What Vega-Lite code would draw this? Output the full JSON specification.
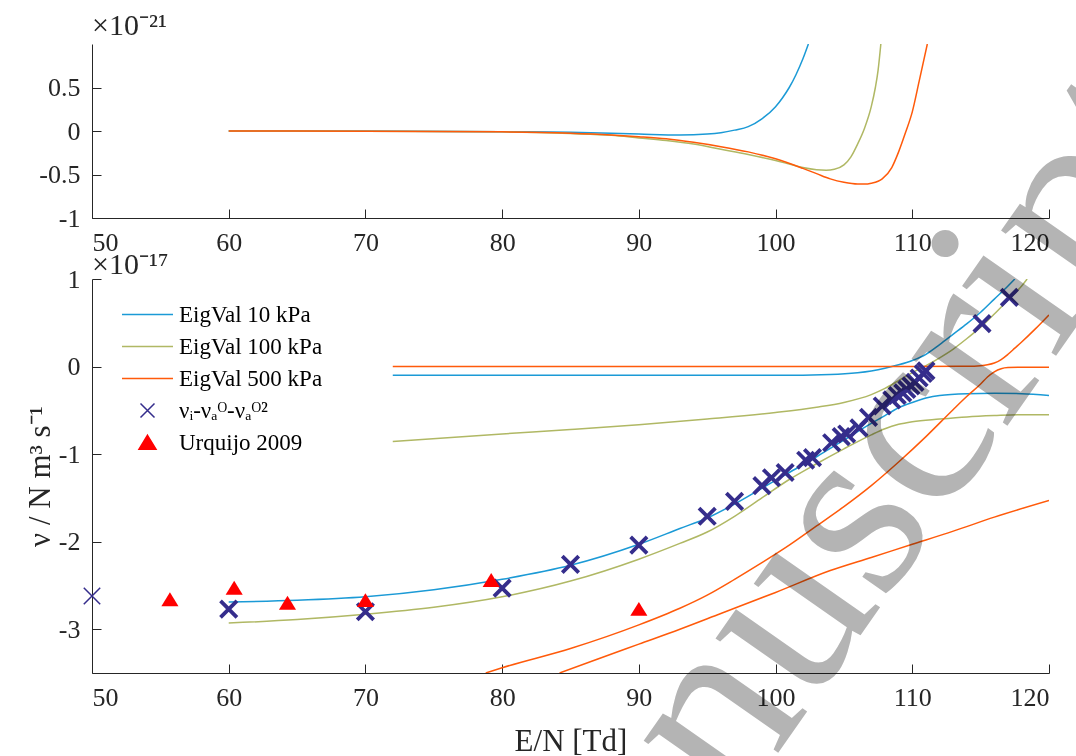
{
  "$schema": "https://vega.github.io/schema/vega-lite/v6.json",
  "background": "white",
  "padding": {"left": 24, "top": 11, "right": 20, "bottom": 10},
  "bounds": "flush",
  "spacing": 61,
  "resolve": {"scale": {"color": "independent", "x": "independent", "y": "independent"}, "legend": {"color": "independent"}},
  "config": {
    "font": "Liberation Serif",
    "view": {"stroke": null},
    "axis": {
      "grid": false,
      "domainColor": "#262626",
      "tickColor": "#262626",
      "labelColor": "#262626",
      "titleColor": "#262626",
      "labelFont": "Liberation Serif",
      "titleFont": "Liberation Serif",
      "labelFontSize": 26,
      "titleFontSize": 31,
      "titleFontWeight": "normal",
      "tickSize": -9,
      "tickWidth": 1,
      "domainWidth": 1,
      "labelExpr": "'' + datum.value"
    },
    "title": {"font": "Liberation Serif", "fontSize": 30, "fontWeight": "normal", "color": "#262626", "anchor": "start", "frame": "group"}
  },
  "datasets": {
    "top": [
      {"series": "EigVal 10 kPa", "x": 60, "y": 0},
      {"series": "EigVal 10 kPa", "x": 70, "y": 0},
      {"series": "EigVal 10 kPa", "x": 80, "y": -0.008},
      {"series": "EigVal 10 kPa", "x": 85, "y": -0.015},
      {"series": "EigVal 10 kPa", "x": 90, "y": -0.035},
      {"series": "EigVal 10 kPa", "x": 93, "y": -0.045},
      {"series": "EigVal 10 kPa", "x": 95, "y": -0.035},
      {"series": "EigVal 10 kPa", "x": 96, "y": -0.02},
      {"series": "EigVal 10 kPa", "x": 97, "y": 0.01},
      {"series": "EigVal 10 kPa", "x": 98, "y": 0.05},
      {"series": "EigVal 10 kPa", "x": 99, "y": 0.14},
      {"series": "EigVal 10 kPa", "x": 100, "y": 0.28},
      {"series": "EigVal 10 kPa", "x": 100.5, "y": 0.38},
      {"series": "EigVal 10 kPa", "x": 101, "y": 0.5},
      {"series": "EigVal 10 kPa", "x": 101.5, "y": 0.65},
      {"series": "EigVal 10 kPa", "x": 102, "y": 0.83},
      {"series": "EigVal 10 kPa", "x": 102.4, "y": 1.0},
      {"series": "EigVal 100 kPa", "x": 60, "y": 0},
      {"series": "EigVal 100 kPa", "x": 70, "y": -0.002},
      {"series": "EigVal 100 kPa", "x": 80, "y": -0.01},
      {"series": "EigVal 100 kPa", "x": 85, "y": -0.03},
      {"series": "EigVal 100 kPa", "x": 88, "y": -0.05},
      {"series": "EigVal 100 kPa", "x": 90, "y": -0.08},
      {"series": "EigVal 100 kPa", "x": 92, "y": -0.11},
      {"series": "EigVal 100 kPa", "x": 94, "y": -0.15},
      {"series": "EigVal 100 kPa", "x": 96, "y": -0.21},
      {"series": "EigVal 100 kPa", "x": 98, "y": -0.27},
      {"series": "EigVal 100 kPa", "x": 100, "y": -0.34},
      {"series": "EigVal 100 kPa", "x": 101, "y": -0.38},
      {"series": "EigVal 100 kPa", "x": 102, "y": -0.42},
      {"series": "EigVal 100 kPa", "x": 103, "y": -0.445},
      {"series": "EigVal 100 kPa", "x": 103.7, "y": -0.45},
      {"series": "EigVal 100 kPa", "x": 104.3, "y": -0.44},
      {"series": "EigVal 100 kPa", "x": 105, "y": -0.39},
      {"series": "EigVal 100 kPa", "x": 105.5, "y": -0.3},
      {"series": "EigVal 100 kPa", "x": 106, "y": -0.15},
      {"series": "EigVal 100 kPa", "x": 106.5, "y": 0.03},
      {"series": "EigVal 100 kPa", "x": 107, "y": 0.28},
      {"series": "EigVal 100 kPa", "x": 107.3, "y": 0.5},
      {"series": "EigVal 100 kPa", "x": 107.5, "y": 0.7},
      {"series": "EigVal 100 kPa", "x": 107.7, "y": 1.0},
      {"series": "EigVal 500 kPa", "x": 60, "y": 0},
      {"series": "EigVal 500 kPa", "x": 70, "y": -0.002},
      {"series": "EigVal 500 kPa", "x": 80, "y": -0.01},
      {"series": "EigVal 500 kPa", "x": 85, "y": -0.025},
      {"series": "EigVal 500 kPa", "x": 88, "y": -0.045},
      {"series": "EigVal 500 kPa", "x": 90, "y": -0.065},
      {"series": "EigVal 500 kPa", "x": 92, "y": -0.09},
      {"series": "EigVal 500 kPa", "x": 94, "y": -0.13},
      {"series": "EigVal 500 kPa", "x": 96, "y": -0.18},
      {"series": "EigVal 500 kPa", "x": 98, "y": -0.24},
      {"series": "EigVal 500 kPa", "x": 100, "y": -0.32},
      {"series": "EigVal 500 kPa", "x": 102, "y": -0.43},
      {"series": "EigVal 500 kPa", "x": 103, "y": -0.49},
      {"series": "EigVal 500 kPa", "x": 104, "y": -0.55},
      {"series": "EigVal 500 kPa", "x": 105, "y": -0.59},
      {"series": "EigVal 500 kPa", "x": 106, "y": -0.61},
      {"series": "EigVal 500 kPa", "x": 106.5, "y": -0.61},
      {"series": "EigVal 500 kPa", "x": 107, "y": -0.6},
      {"series": "EigVal 500 kPa", "x": 107.8, "y": -0.55},
      {"series": "EigVal 500 kPa", "x": 108.5, "y": -0.42},
      {"series": "EigVal 500 kPa", "x": 109, "y": -0.24},
      {"series": "EigVal 500 kPa", "x": 109.5, "y": -0.02},
      {"series": "EigVal 500 kPa", "x": 110, "y": 0.22},
      {"series": "EigVal 500 kPa", "x": 110.5, "y": 0.57},
      {"series": "EigVal 500 kPa", "x": 111.1, "y": 1.0}
    ],
    "curves": [
      {"series": "EigVal 10 kPa", "branch": "a", "x": 60, "y": -2.69},
      {"series": "EigVal 10 kPa", "branch": "a", "x": 65, "y": -2.67},
      {"series": "EigVal 10 kPa", "branch": "a", "x": 70, "y": -2.63},
      {"series": "EigVal 10 kPa", "branch": "a", "x": 75, "y": -2.55},
      {"series": "EigVal 10 kPa", "branch": "a", "x": 80, "y": -2.43},
      {"series": "EigVal 10 kPa", "branch": "a", "x": 85, "y": -2.27},
      {"series": "EigVal 10 kPa", "branch": "a", "x": 90, "y": -2.03},
      {"series": "EigVal 10 kPa", "branch": "a", "x": 93, "y": -1.85},
      {"series": "EigVal 10 kPa", "branch": "a", "x": 95, "y": -1.73},
      {"series": "EigVal 10 kPa", "branch": "a", "x": 97, "y": -1.57},
      {"series": "EigVal 10 kPa", "branch": "a", "x": 99, "y": -1.39},
      {"series": "EigVal 10 kPa", "branch": "a", "x": 101, "y": -1.21},
      {"series": "EigVal 10 kPa", "branch": "a", "x": 103, "y": -1.03},
      {"series": "EigVal 10 kPa", "branch": "a", "x": 105, "y": -0.84},
      {"series": "EigVal 10 kPa", "branch": "a", "x": 107, "y": -0.65},
      {"series": "EigVal 10 kPa", "branch": "a", "x": 108, "y": -0.56},
      {"series": "EigVal 10 kPa", "branch": "a", "x": 109, "y": -0.47},
      {"series": "EigVal 10 kPa", "branch": "a", "x": 110, "y": -0.41},
      {"series": "EigVal 10 kPa", "branch": "a", "x": 111, "y": -0.36},
      {"series": "EigVal 10 kPa", "branch": "a", "x": 112, "y": -0.33},
      {"series": "EigVal 10 kPa", "branch": "a", "x": 114, "y": -0.31},
      {"series": "EigVal 10 kPa", "branch": "a", "x": 116, "y": -0.305},
      {"series": "EigVal 10 kPa", "branch": "a", "x": 118, "y": -0.31},
      {"series": "EigVal 10 kPa", "branch": "a", "x": 120, "y": -0.33},
      {"series": "EigVal 10 kPa", "branch": "b", "x": 72, "y": -0.1},
      {"series": "EigVal 10 kPa", "branch": "b", "x": 80, "y": -0.1},
      {"series": "EigVal 10 kPa", "branch": "b", "x": 90, "y": -0.1},
      {"series": "EigVal 10 kPa", "branch": "b", "x": 100, "y": -0.1},
      {"series": "EigVal 10 kPa", "branch": "b", "x": 104, "y": -0.09},
      {"series": "EigVal 10 kPa", "branch": "b", "x": 106, "y": -0.07},
      {"series": "EigVal 10 kPa", "branch": "b", "x": 107, "y": -0.05},
      {"series": "EigVal 10 kPa", "branch": "b", "x": 108, "y": -0.02},
      {"series": "EigVal 10 kPa", "branch": "b", "x": 109, "y": 0.02},
      {"series": "EigVal 10 kPa", "branch": "b", "x": 110, "y": 0.07},
      {"series": "EigVal 10 kPa", "branch": "b", "x": 111, "y": 0.14},
      {"series": "EigVal 10 kPa", "branch": "b", "x": 112, "y": 0.25},
      {"series": "EigVal 10 kPa", "branch": "b", "x": 113, "y": 0.37},
      {"series": "EigVal 10 kPa", "branch": "b", "x": 114, "y": 0.49},
      {"series": "EigVal 10 kPa", "branch": "b", "x": 115, "y": 0.62},
      {"series": "EigVal 10 kPa", "branch": "b", "x": 116, "y": 0.77},
      {"series": "EigVal 10 kPa", "branch": "b", "x": 117, "y": 0.92},
      {"series": "EigVal 10 kPa", "branch": "b", "x": 117.5, "y": 1.0},
      {"series": "EigVal 100 kPa", "branch": "a", "x": 72, "y": -0.855},
      {"series": "EigVal 100 kPa", "branch": "a", "x": 80, "y": -0.77},
      {"series": "EigVal 100 kPa", "branch": "a", "x": 85, "y": -0.72},
      {"series": "EigVal 100 kPa", "branch": "a", "x": 90, "y": -0.665},
      {"series": "EigVal 100 kPa", "branch": "a", "x": 95, "y": -0.6},
      {"series": "EigVal 100 kPa", "branch": "a", "x": 100, "y": -0.525},
      {"series": "EigVal 100 kPa", "branch": "a", "x": 103, "y": -0.465},
      {"series": "EigVal 100 kPa", "branch": "a", "x": 105, "y": -0.41},
      {"series": "EigVal 100 kPa", "branch": "a", "x": 107, "y": -0.32},
      {"series": "EigVal 100 kPa", "branch": "a", "x": 108, "y": -0.25},
      {"series": "EigVal 100 kPa", "branch": "a", "x": 109, "y": -0.16},
      {"series": "EigVal 100 kPa", "branch": "a", "x": 110, "y": -0.07},
      {"series": "EigVal 100 kPa", "branch": "a", "x": 111, "y": 0.01},
      {"series": "EigVal 100 kPa", "branch": "a", "x": 112, "y": 0.1},
      {"series": "EigVal 100 kPa", "branch": "a", "x": 113, "y": 0.2},
      {"series": "EigVal 100 kPa", "branch": "a", "x": 114, "y": 0.32},
      {"series": "EigVal 100 kPa", "branch": "a", "x": 115, "y": 0.45},
      {"series": "EigVal 100 kPa", "branch": "a", "x": 116, "y": 0.6},
      {"series": "EigVal 100 kPa", "branch": "a", "x": 117, "y": 0.76},
      {"series": "EigVal 100 kPa", "branch": "a", "x": 118, "y": 0.92},
      {"series": "EigVal 100 kPa", "branch": "a", "x": 118.4, "y": 1.0},
      {"series": "EigVal 100 kPa", "branch": "b", "x": 60, "y": -2.93},
      {"series": "EigVal 100 kPa", "branch": "b", "x": 65, "y": -2.89},
      {"series": "EigVal 100 kPa", "branch": "b", "x": 70, "y": -2.83},
      {"series": "EigVal 100 kPa", "branch": "b", "x": 75, "y": -2.75},
      {"series": "EigVal 100 kPa", "branch": "b", "x": 80, "y": -2.63},
      {"series": "EigVal 100 kPa", "branch": "b", "x": 85, "y": -2.45},
      {"series": "EigVal 100 kPa", "branch": "b", "x": 90, "y": -2.2},
      {"series": "EigVal 100 kPa", "branch": "b", "x": 93, "y": -2.02},
      {"series": "EigVal 100 kPa", "branch": "b", "x": 95, "y": -1.89},
      {"series": "EigVal 100 kPa", "branch": "b", "x": 97, "y": -1.71},
      {"series": "EigVal 100 kPa", "branch": "b", "x": 99, "y": -1.5},
      {"series": "EigVal 100 kPa", "branch": "b", "x": 101, "y": -1.29},
      {"series": "EigVal 100 kPa", "branch": "b", "x": 103, "y": -1.11},
      {"series": "EigVal 100 kPa", "branch": "b", "x": 105, "y": -0.94},
      {"series": "EigVal 100 kPa", "branch": "b", "x": 107, "y": -0.78},
      {"series": "EigVal 100 kPa", "branch": "b", "x": 108, "y": -0.71},
      {"series": "EigVal 100 kPa", "branch": "b", "x": 109, "y": -0.66},
      {"series": "EigVal 100 kPa", "branch": "b", "x": 110, "y": -0.63},
      {"series": "EigVal 100 kPa", "branch": "b", "x": 112, "y": -0.6},
      {"series": "EigVal 100 kPa", "branch": "b", "x": 114, "y": -0.575},
      {"series": "EigVal 100 kPa", "branch": "b", "x": 116, "y": -0.56},
      {"series": "EigVal 100 kPa", "branch": "b", "x": 118, "y": -0.55},
      {"series": "EigVal 100 kPa", "branch": "b", "x": 120, "y": -0.55},
      {"series": "EigVal 500 kPa", "branch": "a", "x": 72, "y": 0},
      {"series": "EigVal 500 kPa", "branch": "a", "x": 90, "y": 0},
      {"series": "EigVal 500 kPa", "branch": "a", "x": 110, "y": 0},
      {"series": "EigVal 500 kPa", "branch": "a", "x": 114, "y": 0.003},
      {"series": "EigVal 500 kPa", "branch": "a", "x": 115, "y": 0.01},
      {"series": "EigVal 500 kPa", "branch": "a", "x": 115.5, "y": 0.02},
      {"series": "EigVal 500 kPa", "branch": "a", "x": 116, "y": 0.04},
      {"series": "EigVal 500 kPa", "branch": "a", "x": 116.5, "y": 0.08},
      {"series": "EigVal 500 kPa", "branch": "a", "x": 117, "y": 0.14},
      {"series": "EigVal 500 kPa", "branch": "a", "x": 117.5, "y": 0.21},
      {"series": "EigVal 500 kPa", "branch": "a", "x": 118, "y": 0.28},
      {"series": "EigVal 500 kPa", "branch": "a", "x": 119, "y": 0.43},
      {"series": "EigVal 500 kPa", "branch": "a", "x": 120, "y": 0.59},
      {"series": "EigVal 500 kPa", "branch": "b", "x": 78.8, "y": -3.5},
      {"series": "EigVal 500 kPa", "branch": "b", "x": 80, "y": -3.44},
      {"series": "EigVal 500 kPa", "branch": "b", "x": 85, "y": -3.22},
      {"series": "EigVal 500 kPa", "branch": "b", "x": 90, "y": -2.95},
      {"series": "EigVal 500 kPa", "branch": "b", "x": 93, "y": -2.76},
      {"series": "EigVal 500 kPa", "branch": "b", "x": 95, "y": -2.61},
      {"series": "EigVal 500 kPa", "branch": "b", "x": 97, "y": -2.43},
      {"series": "EigVal 500 kPa", "branch": "b", "x": 99, "y": -2.24},
      {"series": "EigVal 500 kPa", "branch": "b", "x": 101, "y": -2.04},
      {"series": "EigVal 500 kPa", "branch": "b", "x": 103, "y": -1.82},
      {"series": "EigVal 500 kPa", "branch": "b", "x": 105, "y": -1.6},
      {"series": "EigVal 500 kPa", "branch": "b", "x": 107, "y": -1.36},
      {"series": "EigVal 500 kPa", "branch": "b", "x": 109, "y": -1.09},
      {"series": "EigVal 500 kPa", "branch": "b", "x": 111, "y": -0.8},
      {"series": "EigVal 500 kPa", "branch": "b", "x": 113, "y": -0.49},
      {"series": "EigVal 500 kPa", "branch": "b", "x": 114, "y": -0.34},
      {"series": "EigVal 500 kPa", "branch": "b", "x": 115, "y": -0.2},
      {"series": "EigVal 500 kPa", "branch": "b", "x": 115.5, "y": -0.12},
      {"series": "EigVal 500 kPa", "branch": "b", "x": 116, "y": -0.06},
      {"series": "EigVal 500 kPa", "branch": "b", "x": 116.5, "y": -0.025},
      {"series": "EigVal 500 kPa", "branch": "b", "x": 117, "y": -0.012},
      {"series": "EigVal 500 kPa", "branch": "b", "x": 118, "y": -0.008},
      {"series": "EigVal 500 kPa", "branch": "b", "x": 120, "y": -0.008},
      {"series": "EigVal 500 kPa", "branch": "c", "x": 84.2, "y": -3.5},
      {"series": "EigVal 500 kPa", "branch": "c", "x": 87, "y": -3.34},
      {"series": "EigVal 500 kPa", "branch": "c", "x": 90, "y": -3.17},
      {"series": "EigVal 500 kPa", "branch": "c", "x": 93, "y": -3.0},
      {"series": "EigVal 500 kPa", "branch": "c", "x": 96, "y": -2.82},
      {"series": "EigVal 500 kPa", "branch": "c", "x": 100, "y": -2.58},
      {"series": "EigVal 500 kPa", "branch": "c", "x": 104, "y": -2.33},
      {"series": "EigVal 500 kPa", "branch": "c", "x": 107, "y": -2.18},
      {"series": "EigVal 500 kPa", "branch": "c", "x": 110, "y": -2.03},
      {"series": "EigVal 500 kPa", "branch": "c", "x": 113, "y": -1.88},
      {"series": "EigVal 500 kPa", "branch": "c", "x": 116, "y": -1.72},
      {"series": "EigVal 500 kPa", "branch": "c", "x": 120, "y": -1.53}
    ],
    "measured": [
      {"series": "νᵢ-νₐᴼ-νₐᴼ²", "x": 50, "y": -2.62},
      {"series": "νᵢ-νₐᴼ-νₐᴼ²", "x": 60, "y": -2.77},
      {"series": "νᵢ-νₐᴼ-νₐᴼ²", "x": 70, "y": -2.8},
      {"series": "νᵢ-νₐᴼ-νₐᴼ²", "x": 80, "y": -2.53},
      {"series": "νᵢ-νₐᴼ-νₐᴼ²", "x": 85, "y": -2.26},
      {"series": "νᵢ-νₐᴼ-νₐᴼ²", "x": 90, "y": -2.04},
      {"series": "νᵢ-νₐᴼ-νₐᴼ²", "x": 95, "y": -1.71},
      {"series": "νᵢ-νₐᴼ-νₐᴼ²", "x": 97, "y": -1.54},
      {"series": "νᵢ-νₐᴼ-νₐᴼ²", "x": 99, "y": -1.36},
      {"series": "νᵢ-νₐᴼ-νₐᴼ²", "x": 99.7, "y": -1.27},
      {"series": "νᵢ-νₐᴼ-νₐᴼ²", "x": 100.7, "y": -1.21},
      {"series": "νᵢ-νₐᴼ-νₐᴼ²", "x": 102.2, "y": -1.07},
      {"series": "νᵢ-νₐᴼ-νₐᴼ²", "x": 102.7, "y": -1.04},
      {"series": "νᵢ-νₐᴼ-νₐᴼ²", "x": 104.1, "y": -0.87},
      {"series": "νᵢ-νₐᴼ-νₐᴼ²", "x": 104.8, "y": -0.8},
      {"series": "νᵢ-νₐᴼ-νₐᴼ²", "x": 105.2, "y": -0.77},
      {"series": "νᵢ-νₐᴼ-νₐᴼ²", "x": 106.1, "y": -0.7},
      {"series": "νᵢ-νₐᴼ-νₐᴼ²", "x": 106.8, "y": -0.58},
      {"series": "νᵢ-νₐᴼ-νₐᴼ²", "x": 107.8, "y": -0.45},
      {"series": "νᵢ-νₐᴼ-νₐᴼ²", "x": 108.5, "y": -0.38},
      {"series": "νᵢ-νₐᴼ-νₐᴼ²", "x": 108.9, "y": -0.33},
      {"series": "νᵢ-νₐᴼ-νₐᴼ²", "x": 109.3, "y": -0.3},
      {"series": "νᵢ-νₐᴼ-νₐᴼ²", "x": 109.6, "y": -0.26},
      {"series": "νᵢ-νₐᴼ-νₐᴼ²", "x": 109.9, "y": -0.22},
      {"series": "νᵢ-νₐᴼ-νₐᴼ²", "x": 110.2, "y": -0.18},
      {"series": "νᵢ-νₐᴼ-νₐᴼ²", "x": 110.5, "y": -0.13},
      {"series": "νᵢ-νₐᴼ-νₐᴼ²", "x": 110.8, "y": -0.08},
      {"series": "νᵢ-νₐᴼ-νₐᴼ²", "x": 111.0, "y": -0.05},
      {"series": "νᵢ-νₐᴼ-νₐᴼ²", "x": 115.1, "y": 0.49},
      {"series": "νᵢ-νₐᴼ-νₐᴼ²", "x": 117.1, "y": 0.79}
    ],
    "urquijo": [
      {"series": "Urquijo 2009", "x": 55.7, "y": -2.66},
      {"series": "Urquijo 2009", "x": 60.4, "y": -2.53},
      {"series": "Urquijo 2009", "x": 64.3, "y": -2.7},
      {"series": "Urquijo 2009", "x": 70, "y": -2.67},
      {"series": "Urquijo 2009", "x": 79.2, "y": -2.44},
      {"series": "Urquijo 2009", "x": 90, "y": -2.77}
    ],
    "exponent": [{"label": "×10⁻¹⁷", "x": 50, "y": 1}],
    "stamp": [{"word": "Manuscript", "x": 107.23, "y": -2.844}]
  },
  "vconcat": [
    {
      "width": 957,
      "height": 174,
      "title": {"text": "×10⁻²¹", "offset": 3},
      "data": {"name": "top"},
      "mark": {"type": "line", "strokeWidth": 1.5, "clip": true, "interpolate": "monotone"},
      "encoding": {
        "x": {
          "field": "x", "type": "quantitative",
          "scale": {"domain": [50, 120], "nice": false},
          "axis": {"values": [50, 60, 70, 80, 90, 100, 110, 120], "title": null, "labelPadding": 20}
        },
        "y": {
          "field": "y", "type": "quantitative",
          "scale": {"domain": [-1, 1], "nice": false},
          "axis": {"values": [-1, -0.5, 0, 0.5], "title": null, "labelPadding": 21}
        },
        "color": {
          "field": "series", "type": "nominal",
          "scale": {"domain": ["EigVal 10 kPa", "EigVal 100 kPa", "EigVal 500 kPa"], "range": ["#1b9ad6", "#b0b864", "#ff5a0a"]},
          "legend": null
        }
      }
    },
    {
      "width": 957,
      "height": 394,
      "layer": [
        {
          "data": {"name": "curves"},
          "mark": {"type": "line", "strokeWidth": 1.5, "clip": true, "interpolate": "monotone"},
          "encoding": {
            "x": {
              "field": "x", "type": "quantitative",
              "scale": {"domain": [50, 120], "nice": false},
              "axis": {"values": [50, 60, 70, 80, 90, 100, 110, 120], "title": "E/N [Td]", "labelPadding": 20, "titlePadding": 16}
            },
            "y": {
              "field": "y", "type": "quantitative",
              "scale": {"domain": [-3.5, 1], "nice": false},
              "axis": {"values": [-3, -2, -1, 0, 1], "title": "ν / N m³ s⁻¹", "labelPadding": 21, "titlePadding": 2}
            },
            "detail": {"field": "branch"},
            "color": {
              "field": "series", "type": "nominal",
              "scale": {
                "domain": ["EigVal 10 kPa", "EigVal 100 kPa", "EigVal 500 kPa", "νᵢ-νₐᴼ-νₐᴼ²", "Urquijo 2009"],
                "range": ["#1b9ad6", "#b0b864", "#ff5a0a", "#352d8c", "#ff0000"]
              },
              "legend": {
                "orient": "none",
                "legendX": 44,
                "legendY": 24,
                "title": null,
                "labelFont": "Liberation Serif",
                "labelFontSize": 23,
                "labelColor": "#000000",
                "labelOffset": 20,
                "rowPadding": 8,
                "symbolSize": 400,
                "encode": {
                  "symbols": {
                    "update": {
                      "shape": {"signal": "indexof(datum.value, 'EigVal') >= 0 ? 'M-2.55,0L2.55,0' : (datum.value == 'Urquijo 2009' ? 'M0,-0.72L0.85,0.68L-0.85,0.68Z' : 'M-0.7,-0.7L0.7,0.7M-0.7,0.7L0.7,-0.7')"},
                      "fill": {"signal": "datum.value == 'Urquijo 2009' ? '#ff0000' : 'transparent'"},
                      "stroke": {"signal": "datum.value == 'EigVal 10 kPa' ? '#1b9ad6' : (datum.value == 'EigVal 100 kPa' ? '#b0b864' : (datum.value == 'EigVal 500 kPa' ? '#ff5a0a' : (datum.value == 'Urquijo 2009' ? 'transparent' : '#352d8c')))"},
                      "strokeWidth": {"value": 1.5},
                      "size": {"value": 400},
                      "opacity": {"value": 1}
                    }
                  }
                }
              }
            }
          }
        },
        {
          "data": {"name": "measured"},
          "mark": {"type": "point", "shape": "M-1,-1L1,1M-1,1L1,-1", "filled": false, "size": 270, "opacity": 1},
          "encoding": {
            "x": {"field": "x", "type": "quantitative"},
            "y": {"field": "y", "type": "quantitative"},
            "color": {"field": "series", "type": "nominal"},
            "strokeWidth": {"condition": {"test": "datum.x < 55", "value": 1.5}, "value": 3.8}
          }
        },
        {
          "data": {"name": "urquijo"},
          "mark": {"type": "point", "shape": "M0,-0.8L0.95,0.75L-0.95,0.75Z", "filled": true, "size": 324, "opacity": 1},
          "encoding": {
            "x": {"field": "x", "type": "quantitative"},
            "y": {"field": "y", "type": "quantitative"},
            "color": {"field": "series", "type": "nominal"}
          }
        },
        {
          "data": {"name": "exponent"},
          "mark": {"type": "text", "clip": false, "align": "left", "baseline": "alphabetic", "dy": -5, "font": "Liberation Serif", "fontSize": 30, "color": "#262626"},
          "encoding": {
            "x": {"field": "x", "type": "quantitative"},
            "y": {"field": "y", "type": "quantitative"},
            "text": {"field": "label"}
          }
        },
        {
          "data": {"name": "stamp"},
          "mark": {"type": "text", "clip": false, "angle": -55, "align": "center", "baseline": "alphabetic", "font": "Liberation Serif", "fontSize": 255, "fill": "#b4b4b4", "blend": "multiply"},
          "encoding": {
            "x": {"field": "x", "type": "quantitative"},
            "y": {"field": "y", "type": "quantitative"},
            "text": {"field": "word"}
          }
        }
      ]
    }
  ]
}
